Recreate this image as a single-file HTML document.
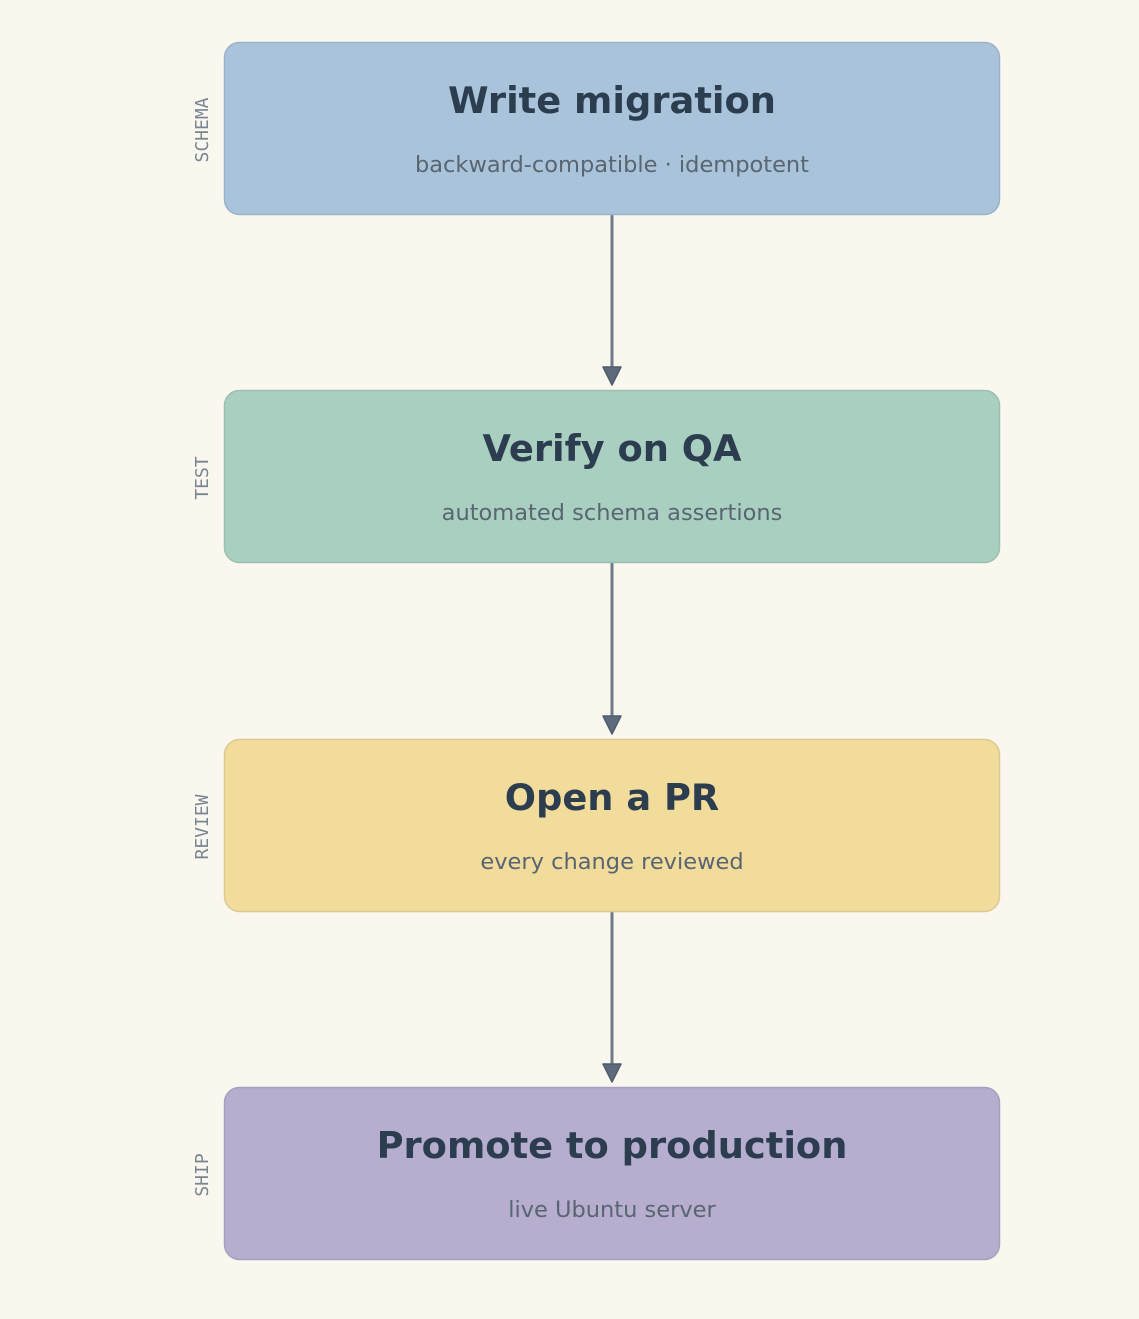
<!DOCTYPE html>
<html><head><style>
body{margin:0;background:#faf7ef;width:1139px;height:1315px;overflow:hidden;font-family:"DejaVu Sans","Liberation Sans",sans-serif}
</style></head><body>
<svg width="1139" height="1315" xmlns="http://www.w3.org/2000/svg" font-family="DejaVu Sans, Liberation Sans, sans-serif">
<g stroke="#6f7c88" stroke-width="3">
<line x1="612" y1="214" x2="612" y2="370"/>
<line x1="612" y1="563" x2="612" y2="719"/>
<line x1="612" y1="911" x2="612" y2="1067"/>
</g>
<g fill="#5d6b7c" stroke="#4f5d6e" stroke-width="1.5" stroke-linejoin="round">
<polygon points="603,367 621,367 612,385"/>
<polygon points="603,716 621,716 612,734"/>
<polygon points="603,1064 621,1064 612,1082"/>
</g>
<g stroke-width="1.5">
<rect x="224.5" y="42.5" width="775" height="172" rx="15" fill="#a8c3da" stroke="#98b3ca"/>
<rect x="224.5" y="390.5" width="775" height="172" rx="15" fill="#a9cfc0" stroke="#9bbfb1"/>
<rect x="224.5" y="739.5" width="775" height="172" rx="15" fill="#f1dc9b" stroke="#dcc98f"/>
<rect x="224.5" y="1087.5" width="775" height="172" rx="15" fill="#b6adcf" stroke="#a79fbf"/>
</g>
<g text-anchor="middle" fill="#2c3d50" font-weight="bold" font-size="36.8">
<text x="612" y="113">Write migration</text>
<text x="612" y="461">Verify on QA</text>
<text x="612" y="810">Open a PR</text>
<text x="612" y="1158">Promote to production</text>
</g>
<g text-anchor="middle" fill="#5a6572" font-size="22.5">
<text x="612" y="172">backward-compatible · idempotent</text>
<text x="612" y="520">automated schema assertions</text>
<text x="612" y="869">every change reviewed</text>
<text x="612" y="1217">live Ubuntu server</text>
</g>
<g text-anchor="middle" fill="#7a8592" font-size="18" font-family="DejaVu Sans Mono, Liberation Mono, monospace">
<text transform="translate(208,130) rotate(-90)">SCHEMA</text>
<text transform="translate(208,478) rotate(-90)">TEST</text>
<text transform="translate(208,827) rotate(-90)">REVIEW</text>
<text transform="translate(208,1175) rotate(-90)">SHIP</text>
</g>
</svg>
</body></html>
